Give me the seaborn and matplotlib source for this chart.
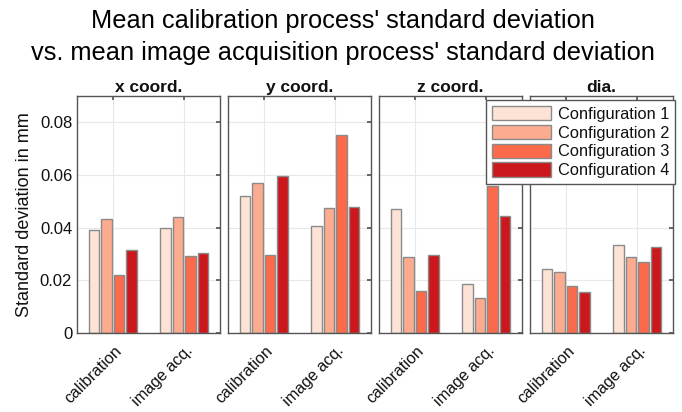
import numpy as np
import pandas as pd
import matplotlib
matplotlib.use("Agg")
import matplotlib.pyplot as plt
import matplotlib.transforms as mtransforms
import seaborn as sns
from matplotlib.patches import Patch

panels = ["x coord.", "y coord.", "z coord.", "dia."]
processes = ["calibration", "image acq."]
configs = ["Configuration 1", "Configuration 2", "Configuration 3", "Configuration 4"]

x_cal = [0.0392, 0.0434, 0.0221, 0.0315]
x_img = [0.0397, 0.0442, 0.0292, 0.0305]
y_cal = [0.0519, 0.0570, 0.0295, 0.0598]
y_img = [0.0408, 0.0475, 0.0753, 0.0479]
z_cal = [0.0471, 0.0288, 0.0160, 0.0295]
z_img = [0.0187, 0.0132, 0.0560, 0.0443]
d_cal = [0.0243, 0.0230, 0.0180, 0.0156]
d_img = [0.0333, 0.0287, 0.0269, 0.0326]

series = {
    "x coord.": (x_cal, x_img),
    "y coord.": (y_cal, y_img),
    "z coord.": (z_cal, z_img),
    "dia.": (d_cal, d_img),
}

rows = []
for p in panels:
    for proc, vals in zip(processes, series[p]):
        for c, v in zip(configs, vals):
            rows.append({"panel": p, "process": proc, "config": c, "value": v})
df = pd.DataFrame(rows)

colors = ["#fde3d6", "#fcab8f", "#fb6a4a", "#cb181d"]

sns.set_theme(style="white")
plt.rcParams["font.family"] = ["Liberation Sans", "DejaVu Sans"]
plt.rcParams["text.color"] = "#111111"
plt.rcParams["axes.labelcolor"] = "#111111"
plt.rcParams["xtick.color"] = "#111111"
plt.rcParams["ytick.color"] = "#111111"

fig = plt.figure(figsize=(6.82, 4.12), dpi=100)
W, H = 682, 412
lefts = [77, 228, 379, 530]
pw = 143
top, bottom = 96, 333

offset = mtransforms.ScaledTranslation(1 / 100, -5 / 100, fig.dpi_scale_trans)

for i, p in enumerate(panels):
    ax = fig.add_axes([lefts[i] / W, 1 - bottom / H, pw / W, (bottom - top) / H])
    sub = df[df.panel == p]
    sns.barplot(data=sub, x="process", y="value", hue="config", order=processes,
                hue_order=configs, palette=colors, saturation=1, width=0.7, gap=0.15,
                edgecolor="#8a8a8a", linewidth=1.0, ax=ax, legend=False)
    ax.set_ylim(0, 0.09)
    ax.set_xlim(-0.5, 1.5)
    ax.set_yticks([0, 0.02, 0.04, 0.06, 0.08])
    ax.grid(True, color="#e8e8e8", linewidth=0.8)
    ax.set_axisbelow(True)
    ax.set_title(p, fontsize=12.5, fontweight="bold", pad=3, color="#111111")
    ax.set_xlabel("")
    ax.tick_params(axis="both", direction="in", length=3, color="#555555",
                   top=True, right=True, labelsize=12)
    for s in ax.spines.values():
        s.set_color("#555555")
        s.set_linewidth(1.0)
    ax.set_xticks([0, 1])
    ax.set_xticklabels(processes, rotation=45, ha="right", rotation_mode="anchor",
                       fontsize=11.6)
    for lab in ax.get_xticklabels():
        lab.set_transform(lab.get_transform() + offset)
    if i == 0:
        ax.set_yticklabels(["0", "0.02", "0.04", "0.06", "0.08"])
        ax.set_ylabel("Standard deviation in mm", fontsize=13, labelpad=5)
    else:
        ax.set_yticklabels([])
        ax.set_ylabel("")

handles = [Patch(facecolor=c, edgecolor="#8a8a8a", label=l) for c, l in zip(colors, configs)]
leg = fig.legend(handles=handles, loc="upper right", bbox_to_anchor=(675 / W, 1 - 100 / H),
                 fontsize=11.8, frameon=True, fancybox=False, handlelength=3.6,
                 handleheight=1.0, labelspacing=0.18, borderpad=0.35, handletextpad=0.4,
                 borderaxespad=0)
leg.get_frame().set_edgecolor("#555555")
leg.get_frame().set_linewidth(1.0)
leg.get_frame().set_alpha(1)

fig.text(343 / W, 1 - 28 / H, "Mean calibration process' standard deviation",
         ha="center", va="baseline", fontsize=18.3, color="black")
fig.text(343 / W, 1 - 60 / H, "vs. mean image acquisition process' standard deviation",
         ha="center", va="baseline", fontsize=18.3, color="black")

fig.savefig("out.png", dpi=100)
